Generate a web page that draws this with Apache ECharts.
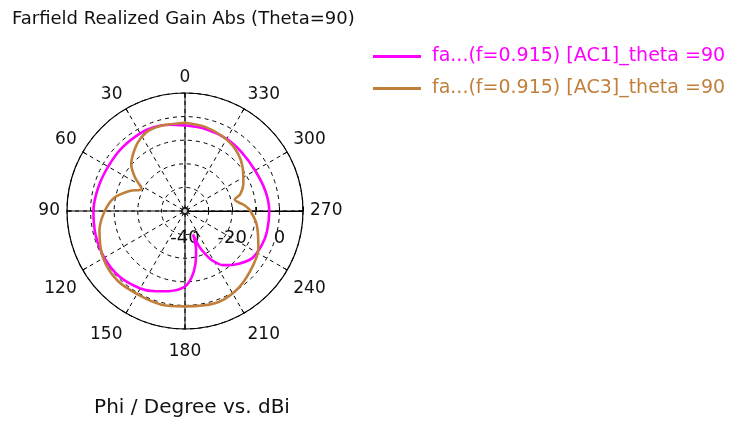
<!DOCTYPE html>
<html>
<head>
<meta charset="utf-8">
<script src="https://cdn.jsdelivr.net/npm/echarts@6/dist/echarts.min.js"></script>
<style>
  html, body { margin: 0; padding: 0; background: #fff; }
  #chart { width: 732px; height: 423px; }
</style>
</head>
<body>
<div id="chart"></div>
<script>
// Azimuth cut of the realized gain pattern (theta = 90 deg), two ports.
const seriesNames = [
  'fa...(f=0.915) [AC1]_theta =90',
  'fa...(f=0.915) [AC3]_theta =90'
];

// Port AC1: phi in degrees and gain in dBi
const phiAC1 = [0, 10, 20, 30, 45, 60, 75, 90, 105, 120, 135, 150, 160, 170, 180, 186, 191, 196, 199, 202, 206, 209, 215, 225, 235, 246, 256, 270, 284, 300, 316, 330, 346, 360];
const gainAC1 = [-3.7, -2.9, -2.1, -2.0, -2.2, -2.4, -1.9, -1.2, -0.8, -0.5, -0.7, -2.1, -3.8, -5.6, -8.0, -12.0, -17.0, -23.0, -29.5, -23.5, -19.0, -16.0, -12.0, -8.3, -5.2, -4.4, -4.2, -4.3, -4.9, -5.7, -5.4, -4.7, -4.2, -3.7];

// Port AC3: phi in degrees and gain in dBi
const phiAC3 = [0, 15, 24, 31, 39, 49, 56, 63, 70, 79, 90, 103, 120, 136, 151, 166, 180, 198, 212, 227, 243, 259, 270, 275, 283, 287, 295, 307, 321, 334, 347, 360];
const gainAC3 = [-2.6, -2.5, -2.6, -3.8, -6.2, -9.8, -14.4, -19.4, -15.1, -9.7, -6.0, -2.8, 0.0, 1.1, 0.6, 0.9, 0.4, 1.1, 0.1, -2.4, -5.1, -9.0, -12.3, -14.4, -18.4, -15.5, -12.7, -9.4, -6.2, -4.5, -3.3, -2.6];

// Radial tick labels that are printed (dBi)
const radiusLabels = [-40, -20, 0];

const seriesColors = ['#ff00ff', '#c0803c'];

// Radial scale (dBi) and angular scale (degrees)
const RADIUS_MIN = -40;
const RADIUS_MAX = 10;
const RADIUS_STEP = 10;
const ANGLE_MIN = -90;   // the 270 deg direction, drawn pointing right
const ANGLE_MAX = 270;

// Angular axis runs from -90 to 270 so that 270 sits on the right;
// negative values are shown as their 0..360 equivalents.
function toAxisAngle(phi) {
  return phi > 270 ? phi - 360 : phi;
}
function angleLabel(v) {
  const d = ((v % 360) + 360) % 360;
  return String(d);
}
function radiusLabel(v) {
  return radiusLabels.indexOf(v) >= 0 ? String(v) : '';
}

function toPolarData(phis, gains) {
  return phis.map((p, i) => [gains[i], toAxisAngle(p)]);
}

const chart = echarts.init(document.getElementById('chart'), null, { renderer: 'canvas' });

const FONT = 'DejaVu Sans';
const center = [185, 211];
const radius = 118;

const option = {
  animation: false,
  backgroundColor: '#ffffff',
  title: [
    {
      text: 'Farfield Realized Gain Abs (Theta=90)',
      left: 7, top: 5,
      textStyle: { fontFamily: FONT, fontSize: 18, fontWeight: 'normal', color: '#111' }
    },
    {
      text: 'Phi / Degree vs. dBi',
      left: 187, top: 393, textAlign: 'center',
      textStyle: { fontFamily: FONT, fontSize: 20, fontWeight: 'normal', color: '#111' }
    }
  ],
  legend: {
    orient: 'vertical',
    left: 368, top: 42,
    itemWidth: 48, itemHeight: 12, itemGap: 13,
    icon: 'path://M0,4.5 L48,4.5 L48,7.5 L0,7.5 Z',
    data: seriesNames.map((n, i) => ({
      name: n,
      textStyle: { color: seriesColors[i] }
    })),
    textStyle: { fontFamily: FONT, fontSize: 19, padding: [0, 0, 0, 6] }
  },
  polar: [
    { center: center, radius: radius },
    { center: center, radius: radius }
  ],
  angleAxis: [
    {
      polarIndex: 0,
      type: 'value',
      min: ANGLE_MIN, max: ANGLE_MAX, interval: 30,
      startAngle: 0, clockwise: false,
      axisLine: { show: true, lineStyle: { color: '#000', width: 1.2 } },
      axisTick: { show: true, inside: true, length: 5, lineStyle: { color: '#000' } },
      axisLabel: {
        show: true, margin: 7, formatter: angleLabel,
        fontFamily: FONT, fontSize: 17, color: '#111',
        padding: [7, 0, 0, 0]
      },
      splitLine: { show: true, lineStyle: { color: '#000', width: 1, type: [4, 4] } }
    },
    {
      polarIndex: 1,
      type: 'value',
      min: ANGLE_MIN, max: ANGLE_MAX, interval: 90,
      startAngle: 0, clockwise: false,
      axisLine: { show: false },
      axisTick: { show: false },
      axisLabel: { show: false },
      splitLine: { show: true, lineStyle: { color: '#000', width: 1, type: 'solid' } }
    }
  ],
  radiusAxis: [
    {
      polarIndex: 0,
      type: 'value',
      min: RADIUS_MIN, max: RADIUS_MAX, interval: RADIUS_STEP,
      axisLine: { show: true, lineStyle: { color: '#000', width: 1 } },
      axisTick: { show: true, length: 4, lineStyle: { color: '#000' } },
      axisLabel: {
        show: true, showMinLabel: true, showMaxLabel: true,
        margin: -27, align: 'center', verticalAlign: 'middle',
        formatter: radiusLabel,
        fontFamily: FONT, fontSize: 18, color: '#111'
      },
      splitLine: { show: true, lineStyle: { color: '#000', width: 1, type: [4, 4] } }
    },
    {
      polarIndex: 1,
      type: 'value',
      min: RADIUS_MIN, max: RADIUS_MAX, interval: RADIUS_STEP,
      axisLine: { show: false },
      axisTick: { show: false },
      axisLabel: { show: false },
      splitLine: { show: false }
    }
  ],
  series: [
    {
      name: seriesNames[0],
      type: 'line',
      coordinateSystem: 'polar',
      polarIndex: 0,
      data: toPolarData(phiAC1, gainAC1),
      showSymbol: false, symbol: 'none',
      smooth: 0.3,
      lineStyle: { color: seriesColors[0], width: 2.6 },
      itemStyle: { color: seriesColors[0] },
      z: 3
    },
    {
      name: seriesNames[1],
      type: 'line',
      coordinateSystem: 'polar',
      polarIndex: 0,
      data: toPolarData(phiAC3, gainAC3),
      showSymbol: false, symbol: 'none',
      smooth: 0.3,
      lineStyle: { color: seriesColors[1], width: 2.6 },
      itemStyle: { color: seriesColors[1] },
      z: 4
    },
    {
      // marker at the pole of the polar grid
      name: 'origin',
      type: 'scatter',
      coordinateSystem: 'polar',
      polarIndex: 0,
      data: [[RADIUS_MIN, 0]],
      symbol: 'circle', symbolSize: 6,
      itemStyle: { color: '#fff', borderColor: '#000', borderWidth: 2 },
      silent: true, z: 5
    }
  ]
};

chart.setOption(option);
</script>
</body>
</html>
